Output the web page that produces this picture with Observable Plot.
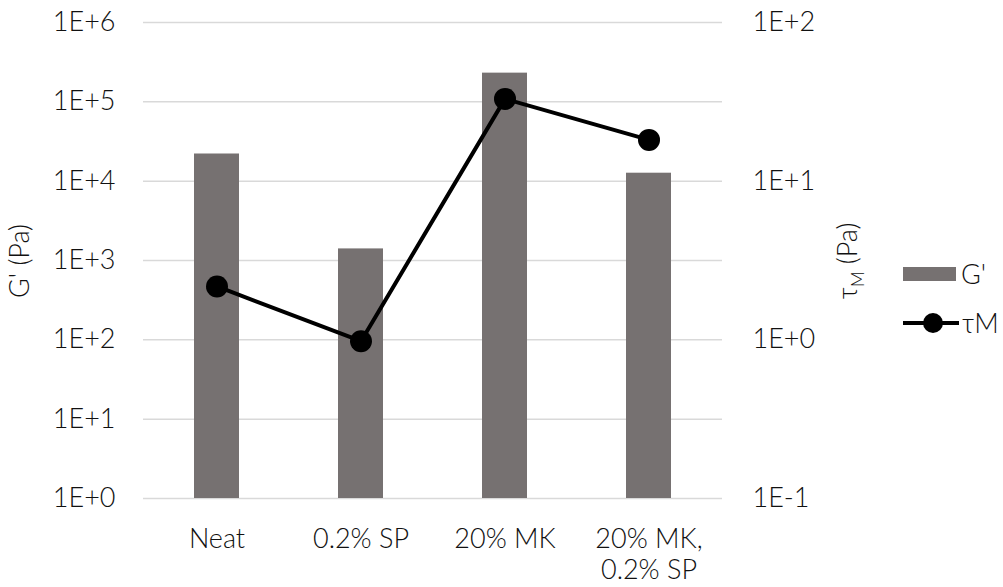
<!DOCTYPE html>
<html>
<head>
<meta charset="utf-8">
<script src="https://cdn.jsdelivr.net/npm/d3@7"></script>
<script src="https://cdn.jsdelivr.net/npm/@observablehq/plot@0.6"></script>
<style>
  body { margin: 0; background: #fff; }
  #wrap { position: relative; width: 1003px; height: 587px; font-family: "Lato", sans-serif; font-weight: 300; color: #111; }
  .ytitle { position: absolute; font-size: 27px; white-space: nowrap; transform: translate(-50%, -50%) rotate(-90deg); }
  .legend { position: absolute; left: 903px; font-size: 27px; display: flex; align-items: center; line-height: 1; }
</style>
</head>
<body>
<div id="wrap"></div>
<script>
// Samples along the category axis
const samples = ["Neat", "0.2% SP", "20% MK", "20% MK,\n0.2% SP"];
// Storage modulus G' (Pa), left log axis
const gPrime = [22000, 1400, 230000, 12600];
// Yield stress τM (Pa), right log axis
const tauM = [2.17, 0.98, 33, 18.2];
// Tick values for the two log axes
const leftTicks = [1, 10, 100, 1e3, 1e4, 1e5, 1e6];
const rightTicks = [0.1, 1, 10, 100];

// The right axis spans 1E-1..1E+2 over the same height as 1E+0..1E+6 on the left
const tauToG = t => Math.pow(10, 2 * (Math.log10(t) + 1));

const bars = samples.map((s, i) => ({sample: s, g: gPrime[i]}));
const line = samples.map((s, i) => ({sample: s, tau: tauM[i], y: tauToG(tauM[i])}));

const fmt = v => "1E" + (Math.log10(v) >= 0 ? "+" : "-") + Math.abs(Math.round(Math.log10(v)));

const chart = Plot.plot({
  width: 1003,
  height: 587,
  marginLeft: 143,
  marginRight: 281,
  marginTop: 22,
  marginBottom: 89,
  style: {fontFamily: "Lato, sans-serif", fontWeight: 300, fontSize: "27px", color: "#111", background: "#fff"},
  x: {domain: samples, paddingInner: 0.69, paddingOuter: 0.345, label: null},
  y: {type: "log", domain: [1, 1e6], label: null},
  marks: [
    Plot.gridY(leftTicks, {stroke: "#d9d9d9", strokeOpacity: 1, strokeWidth: 1.5}),
    Plot.barY(bars, {x: "sample", y1: 1, y2: "g", fill: "#767171"}),
    Plot.line(line, {x: "sample", y: "y", stroke: "#000", strokeWidth: 4}),
    Plot.dot(line, {x: "sample", y: "y", r: 11, fill: "#000"}),
    Plot.axisY(leftTicks, {anchor: "left", tickSize: 0, tickPadding: 28, tickFormat: fmt, label: null, fill: "#111"}),
    Plot.axisY(rightTicks.map(tauToG), {anchor: "right", tickSize: 0, tickPadding: 30, tickFormat: v => fmt(Math.sqrt(v) / 10), label: null, fill: "#111"}),
    Plot.axisX({tickSize: 0, tickPadding: 27, label: null, lineHeight: 1.15, fill: "#111", textAnchor: "middle"})
  ]
});

const wrap = document.getElementById("wrap");
wrap.appendChild(chart);

const t1 = document.createElement("div");
t1.className = "ytitle";
t1.style.left = "18px"; t1.style.top = "261px";
t1.textContent = "G' (Pa)";
wrap.appendChild(t1);

const t2 = document.createElement("div");
t2.className = "ytitle";
t2.style.left = "849px"; t2.style.top = "261px";
t2.innerHTML = "τ<sub style='font-size:17px'>M</sub> (Pa)";
wrap.appendChild(t2);

const l1 = document.createElement("div");
l1.className = "legend"; l1.style.top = "260px";
l1.innerHTML = "<span style='display:inline-block;width:53px;height:14px;background:#767171;margin-right:5px'></span>G'";
wrap.appendChild(l1);

const l2 = document.createElement("div");
l2.className = "legend"; l2.style.top = "309px";
l2.innerHTML = "<svg width='56' height='24' style='margin-right:3px'><line x1='0' y1='12' x2='56' y2='12' stroke='#000' stroke-width='4'/><circle cx='30' cy='12' r='10' fill='#000'/></svg>τM";
wrap.appendChild(l2);
</script>
</body>
</html>
